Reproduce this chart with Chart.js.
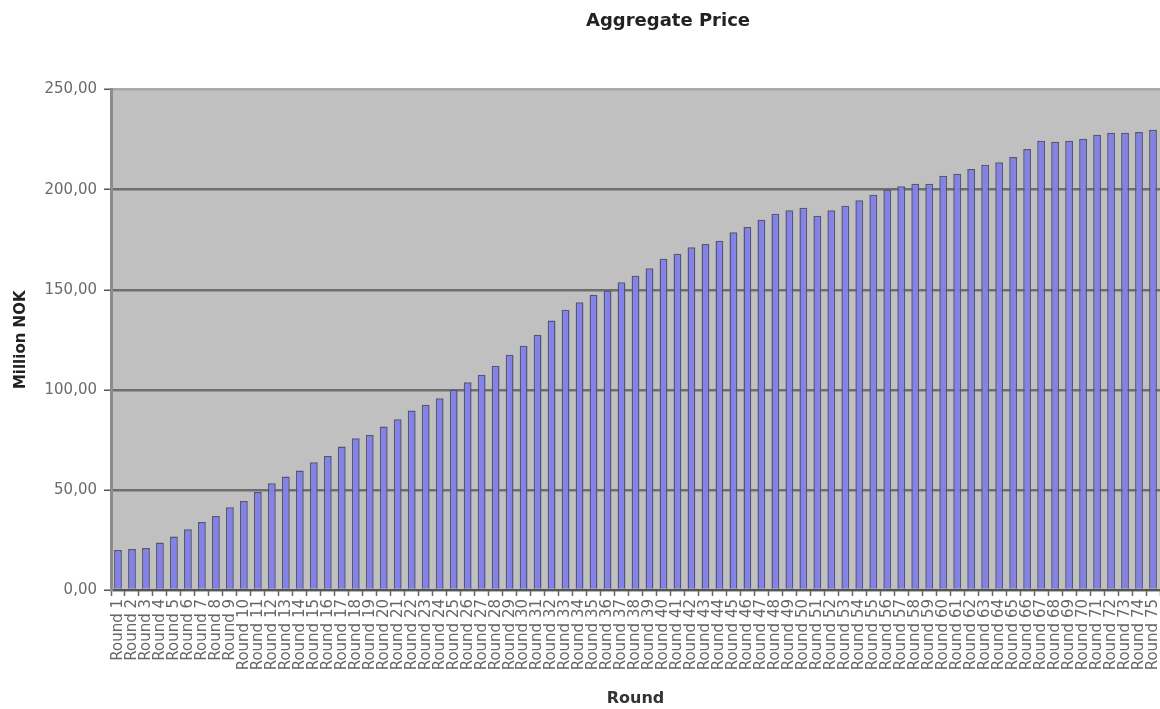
<!DOCTYPE html>
<html>
<head>
<meta charset="utf-8">
<title>Aggregate Price</title>
<script src="https://cdn.jsdelivr.net/npm/chart.js@4/dist/chart.umd.min.js"></script>
<style>
  html, body { margin: 0; padding: 0; background: #fff; overflow: hidden; }
</style>
</head>
<body>
<canvas id="barChart" width="1160" height="709"></canvas>
<script>
// values, one per round
var priceValues = [
  20, 20.5, 21, 23.7, 26.7, 30.3, 34, 37, 41.3, 44.5,
  49, 53.3, 56.7, 59.7, 63.8, 67, 71.7, 75.8, 77.5, 81.7,
  85.3, 89.7, 92.5, 95.8, 100, 103.8, 107.5, 112, 117.5, 122,
  127.5, 134.7, 140, 143.8, 147.5, 149.5, 153.7, 157, 160.8, 165.5,
  168, 171.2, 172.8, 174.5, 178.7, 181.3, 185, 188, 189.7, 191,
  187, 189.7, 192, 194.7, 197.5, 200, 201.7, 203, 203, 207,
  208, 210.3, 212.5, 213.7, 216.3, 220.3, 224.5, 224, 224.5, 225.5,
  227.5, 228.5, 228.5, 228.8, 230
];
var roundLabels = priceValues.map(function (v, i) { return 'Round ' + (i + 1); });
var yTicks = [0, 50, 100, 150, 200, 250];

// grey plot background like the old Excel chart
var plotBackground = {
  id: 'plotBackground',
  afterLayout: function (chart) {
    // the original chart was wider and got cropped, so its title sits right of centre
    if (chart.titleBlock) chart.titleBlock.right = chart.width + 176;
  },
  beforeDraw: function (chart) {
    var a = chart.chartArea, ctx = chart.ctx;
    ctx.save();
    ctx.fillStyle = '#c0c0c0';
    ctx.fillRect(a.left, a.top, a.right - a.left, a.bottom - a.top);
    ctx.restore();
  }
};

var ctx = document.getElementById('barChart').getContext('2d');
var config = {
  type: 'bar',
  data: {
    labels: roundLabels,
    datasets: [{
      label: 'Aggregate Price',
      data: priceValues,
      backgroundColor: '#8282ea',
      borderColor: '#55557a',
      borderWidth: 1.5,
      barPercentage: 0.56,
      categoryPercentage: 1
    }]
  },
  options: {
    responsive: false,
    animation: false,
    layout: { padding: 0 },
    plugins: {
      legend: { display: false },
      tooltip: { enabled: false },
      title: {
        display: true,
        text: 'Aggregate Price',
        color: '#222',
        font: { family: 'DejaVu Sans', size: 18, weight: 'bold' },
        padding: { top: 11, bottom: 57 }
      }
    },
    scales: {
      x: {
        afterFit: function (axis) {
          axis.height = 119;
          // plot runs right to the cropped edge
          axis.paddingLeft = 0;
          axis.paddingRight = 0;
        },
        grid: {
          drawOnChartArea: false,
          drawTicks: true,
          tickLength: 6,
          tickColor: '#666',
          tickWidth: 1.5
        },
        border: { color: '#555', width: 2 },
        ticks: {
          autoSkip: false,
          minRotation: 90,
          maxRotation: 90,
          padding: 3,
          color: '#666',
          font: { family: 'DejaVu Sans', size: 15 }
        },
        title: {
          display: true,
          text: 'Round',
          color: '#333',
          font: { family: 'DejaVu Sans', size: 16, weight: 'bold' },
          padding: { top: 0, bottom: 1 }
        }
      },
      y: {
        min: 0,
        max: 250,
        afterFit: function (axis) { axis.width = 111; },
        afterBuildTicks: function (axis) {
          axis.ticks = yTicks.map(function (v) { return { value: v }; });
        },
        grid: {
          color: function (c) { return c.tick && c.tick.value === 250 ? '#a8a8a8' : '#6e6e6e'; },
          lineWidth: 2.5,
          tickLength: 7,
          tickColor: '#555',
          tickWidth: 1.5
        },
        border: { color: '#8c8c8c', width: 3 },
        ticks: {
          padding: 7,
          color: '#6a6a6a',
          font: { family: 'DejaVu Sans', size: 15 },
          callback: function (v) { return v.toFixed(2).replace('.', ','); }
        },
        title: {
          display: true,
          text: 'Million NOK',
          color: '#222',
          font: { family: 'DejaVu Sans', size: 15, weight: 'bold' },
          padding: { top: 12, bottom: 0 }
        }
      }
    }
  },
  plugins: [plotBackground]
};

var barChart = new Chart(ctx, config);
</script>
</body>
</html>
